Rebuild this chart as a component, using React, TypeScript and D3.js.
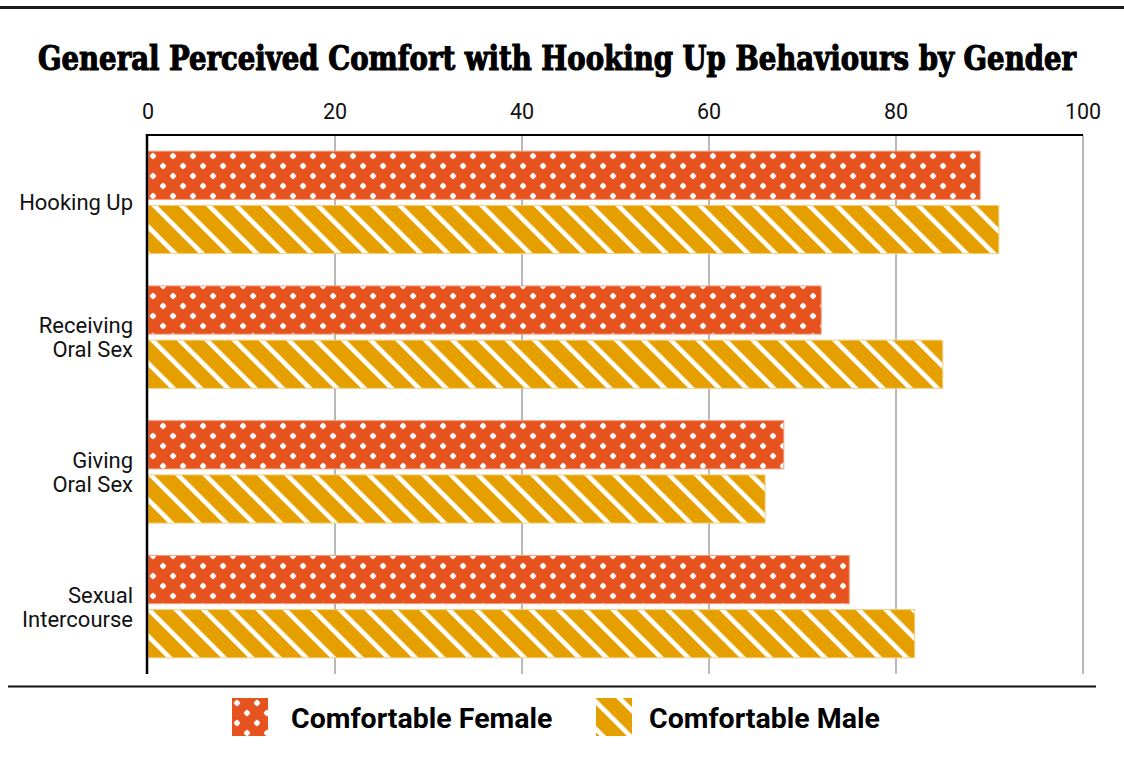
import React from "react";
import * as d3 from "d3";

const categories: string[][] = [
  ["Hooking Up"],
  ["Receiving", "Oral Sex"],
  ["Giving", "Oral Sex"],
  ["Sexual", "Intercourse"],
];
const femaleValues = [89, 72, 68, 75];
const maleValues = [91, 85, 66, 82];
const xTicks = [0, 20, 40, 60, 80, 100];
const seriesNames = ["Comfortable Female", "Comfortable Male"];

const W = 1124;
const H = 760;
const FEMALE = "#E6531F";
const MALE = "#E5A000";

function DotTile() {
  return (
    <>
      <rect width={20} height={20} fill={FEMALE} />
      <path d="M5,1.6 L8.4,5 L5,8.4 L1.6,5 Z" fill="#fff" />
      <path d="M15,11.6 L18.4,15 L15,18.4 L11.6,15 Z" fill="#fff" />
      <rect x={2.8} y={2.8} width={4.4} height={4.4} fill="#fff" />
      <rect x={12.8} y={12.8} width={4.4} height={4.4} fill="#fff" />
    </>
  );
}

export default function App() {
  const left = 148;
  const right = 1083;
  const top = 135;
  const bottom = 674;
  const x = d3.scaleLinear().domain([0, 100]).range([left, right]);
  const y = d3
    .scaleBand<number>()
    .domain(categories.map((_, i) => i))
    .range([top, bottom])
    .paddingInner(0.24)
    .paddingOuter(0.12);
  const gap = 6;
  const barH = (y.bandwidth() - gap) / 2;

  return (
    <svg
      width={W}
      height={H}
      style={{ position: "absolute", left: 0, top: 0, background: "#fff" }}
    >
      <defs>
        <pattern id="dots" patternUnits="userSpaceOnUse" width={20} height={20} x={148} y={151}>
          <DotTile />
        </pattern>
        <pattern
          id="stripes"
          patternUnits="userSpaceOnUse"
          width={19.3}
          height={19.3}
          patternTransform="rotate(-45)"
        >
          <rect width={19.3} height={19.3} fill={MALE} />
          <rect x={0} width={4.6} height={19.3} fill="#fff" />
        </pattern>
        <pattern id="dotsL" patternUnits="userSpaceOnUse" width={20} height={20} x={232} y={698}>
          <DotTile />
        </pattern>
      </defs>

      {/* top rule */}
      <rect x={0} y={6} width={W} height={3} fill="#1a1a1a" />

      <text
        x={557}
        y={70}
        textAnchor="middle"
        fontFamily="'DejaVu Serif Condensed', 'DejaVu Serif', serif"
        fontWeight="bold"
        fontSize={33}
        textLength={1038}
        lengthAdjust="spacingAndGlyphs"
        fill="#000"
        stroke="#000"
        strokeWidth={1.1}
      >
        General Perceived Comfort with Hooking Up Behaviours by Gender
      </text>

      {/* grid */}
      {xTicks.map((t) => (
        <g key={t}>
          {t > 0 && (
            <line x1={x(t)} x2={x(t)} y1={top} y2={bottom} stroke="#8a8a8a" strokeWidth={1.2} />
          )}
          <text
            x={x(t)}
            y={119}
            textAnchor="middle"
            fontFamily="Roboto, sans-serif"
            fontSize={21.5}
            fill="#111"
          >
            {t}
          </text>
        </g>
      ))}
      <line x1={left - 1} x2={right} y1={top} y2={top} stroke="#000" strokeWidth={2} />

      {/* bars */}
      {categories.map((c, i) => {
        const y0 = y(i)!;
        return (
          <g key={i}>
            <rect
              x={x(0)}
              y={y0}
              width={x(femaleValues[i]) - x(0)}
              height={barH}
              fill="url(#dots)"
              stroke="#F29C7A"
              strokeWidth={1}
            />
            <rect
              x={x(0)}
              y={y0 + barH + gap}
              width={x(maleValues[i]) - x(0)}
              height={barH}
              fill="url(#stripes)"
              stroke="#F2CF7F"
              strokeWidth={1}
            />
            {c.map((line, j) => (
              <text
                key={j}
                x={133}
                y={y0 + y.bandwidth() / 2 + 8 + (j - (c.length - 1) / 2) * 24}
                textAnchor="end"
                fontFamily="Roboto, sans-serif"
                fontSize={22}
                fill="#111"
              >
                {line}
              </text>
            ))}
          </g>
        );
      })}

      <line x1={left - 1} x2={left - 1} y1={top - 1} y2={bottom} stroke="#000" strokeWidth={2.5} />

      {/* bottom rule */}
      <line x1={8} x2={1096} y1={686.5} y2={686.5} stroke="#111" strokeWidth={2} />

      {/* legend */}
      <rect x={232} y={698} width={36} height={38} fill="url(#dotsL)" />
      <text x={291} y={728} fontFamily="Roboto, sans-serif" fontWeight="bold" fontSize={28.5} fill="#000">
        {seriesNames[0]}
      </text>
      <rect x={596} y={698} width={36} height={38} fill="url(#stripes)" />
      <text x={649} y={728} fontFamily="Roboto, sans-serif" fontWeight="bold" fontSize={28.5} fill="#000">
        {seriesNames[1]}
      </text>
    </svg>
  );
}
